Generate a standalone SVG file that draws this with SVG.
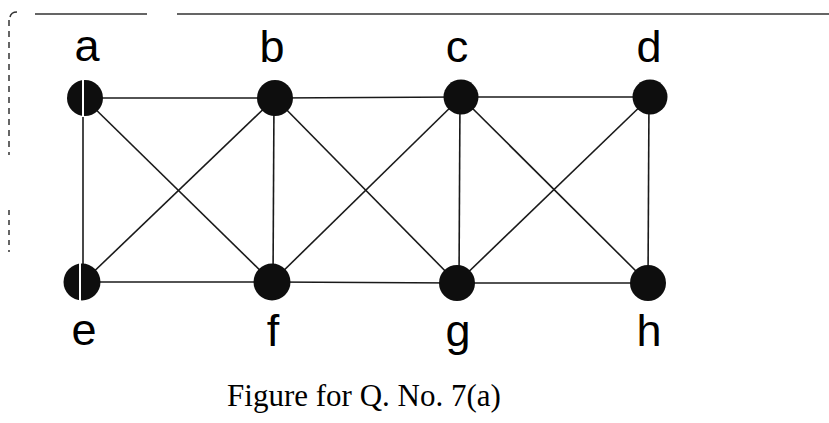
<svg xmlns="http://www.w3.org/2000/svg" width="829" height="423" viewBox="0 0 829 423">
<style>
.edge{stroke:#1a1a1a;stroke-width:1.6;fill:none}
.node{fill:#0e0e0e}
.stripe{stroke:#ffffff;stroke-width:2}
.lbl{font-family:"Liberation Sans",Arial,sans-serif;font-size:45px;fill:#000;text-anchor:middle}
.cap{font-family:"Liberation Serif","Times New Roman",serif;font-size:31px;fill:#000;text-anchor:middle}
.frame{stroke:#333;stroke-width:1.5;fill:none}
</style>
<rect width="829" height="423" fill="#fff"/>
<g id="frame">
<path class="frame" d="M35 14 H147 M177 14 H829"/>
<path class="frame" d="M17 12 Q11 12 10 17"/>
<path class="frame" d="M9 20 V155" stroke-dasharray="6 5"/>
<path class="frame" d="M9 210 V252" stroke-dasharray="5 5"/>
</g>
<g id="connectors">
<line class="edge" x1="84" y1="98" x2="275" y2="98"/>
<line class="edge" x1="275" y1="98" x2="461" y2="97"/>
<line class="edge" x1="461" y1="97" x2="650" y2="97"/>
<line class="edge" x1="83" y1="282" x2="272" y2="282"/>
<line class="edge" x1="272" y1="282" x2="457" y2="283"/>
<line class="edge" x1="457" y1="283" x2="648" y2="283"/>
<line class="edge" x1="83" y1="98" x2="83" y2="282"/>
<line class="edge" x1="274" y1="98" x2="273" y2="282"/>
<line class="edge" x1="460" y1="97" x2="459" y2="283"/>
<line class="edge" x1="649" y1="97" x2="648" y2="283"/>
<line class="edge" x1="84" y1="98" x2="272" y2="282"/>
<line class="edge" x1="275" y1="98" x2="83" y2="282"/>
<line class="edge" x1="275" y1="98" x2="457" y2="283"/>
<line class="edge" x1="461" y1="97" x2="272" y2="282"/>
<line class="edge" x1="461" y1="97" x2="648" y2="283"/>
<line class="edge" x1="650" y1="97" x2="457" y2="283"/>
</g>
<g id="node-a"><circle class="node" cx="85" cy="98" r="18"/><line class="stripe" x1="83" y1="79" x2="83" y2="117"/><text class="lbl" x="87" y="61">a</text></g>
<g id="node-b"><circle class="node" cx="275" cy="98" r="18"/><text class="lbl" x="272" y="62">b</text></g>
<g id="node-c"><circle class="node" cx="461" cy="97" r="17.5"/><text class="lbl" x="457" y="62">c</text></g>
<g id="node-d"><circle class="node" cx="650" cy="97" r="17.5"/><text class="lbl" x="649" y="62">d</text></g>
<g id="node-e"><circle class="node" cx="82" cy="282" r="18.5"/><line class="stripe" x1="80" y1="262" x2="80" y2="302"/><text class="lbl" x="84" y="345">e</text></g>
<g id="node-f"><circle class="node" cx="272" cy="282" r="18.5"/><text class="lbl" x="273" y="346">f</text></g>
<g id="node-g"><circle class="node" cx="457" cy="283" r="18"/><text class="lbl" x="458" y="346">g</text></g>
<g id="node-h"><circle class="node" cx="648" cy="283" r="18"/><text class="lbl" x="649" y="346">h</text></g>
<text class="cap" x="364" y="406">Figure for Q. No. 7(a)</text>
</svg>
